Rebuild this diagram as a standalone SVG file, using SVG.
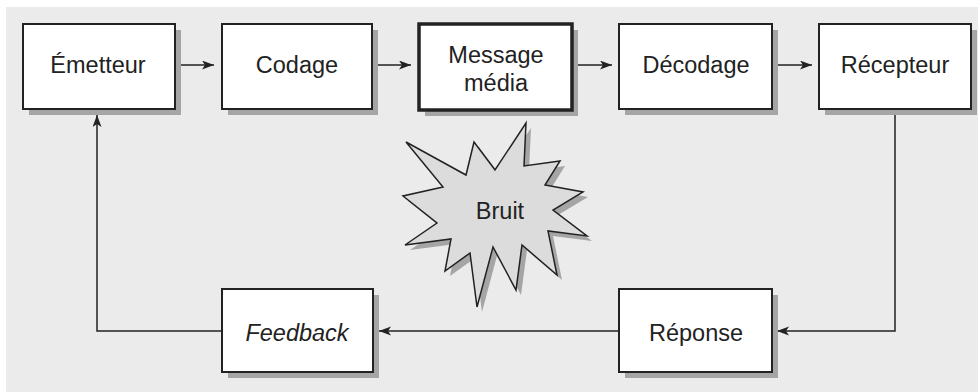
<svg xmlns="http://www.w3.org/2000/svg" width="978" height="392" viewBox="0 0 978 392">
<style>
.shadow{fill:#a5a5a5;stroke:none}
.box{fill:#ffffff;stroke:#222222;stroke-width:2}
.thick{stroke-width:3.5}
.lbl{font-family:"Liberation Sans",Arial,Helvetica,sans-serif;font-size:23.5px;fill:#222222;text-anchor:middle}
.it{font-style:italic}
.conn{fill:none;stroke:#222222;stroke-width:1.5}
</style>
<defs>
<marker id="ah" markerUnits="userSpaceOnUse" markerWidth="14" markerHeight="10" refX="12" refY="4.5" orient="auto">
<path d="M0,0 L12,4.5 L0,9 L3,4.5 Z" fill="#222222"/>
</marker>
</defs>
<rect x="0" y="0" width="978" height="392" fill="#ffffff"/>
<rect x="6" y="7" width="972" height="385" fill="#ebebeb"/>
<g id="connectors">
<path class="conn" d="M175,65 H214" marker-end="url(#ah)"/>
<path class="conn" d="M372,65 H411" marker-end="url(#ah)"/>
<path class="conn" d="M573,65 H612" marker-end="url(#ah)"/>
<path class="conn" d="M772,65 H812" marker-end="url(#ah)"/>
<path class="conn" d="M895,109 V331 H777" marker-end="url(#ah)"/>
<path class="conn" d="M619,331 H379" marker-end="url(#ah)"/>
<path class="conn" d="M222,331 H97 V115" marker-end="url(#ah)"/>
</g>
<g id="emetteur">
<rect class="shadow" x="29" y="30" width="152" height="85"/>
<rect class="box" x="23" y="24" width="152" height="85"/>
<text class="lbl" x="98" y="73">Émetteur</text>
</g>
<g id="codage">
<rect class="shadow" x="228" y="30" width="150" height="85"/>
<rect class="box" x="222" y="24" width="150" height="85"/>
<text class="lbl" x="297" y="73">Codage</text>
</g>
<g id="message">
<rect class="shadow" x="425" y="30" width="153" height="86"/>
<rect class="box thick" x="419" y="24" width="153" height="86"/>
<text class="lbl" x="496" y="63">Message</text>
<text class="lbl" x="496" y="91">média</text>
</g>
<g id="decodage">
<rect class="shadow" x="625" y="30" width="153" height="85"/>
<rect class="box" x="619" y="24" width="153" height="85"/>
<text class="lbl" x="696" y="73">Décodage</text>
</g>
<g id="recepteur">
<rect class="shadow" x="825" y="30" width="152" height="85"/>
<rect class="box" x="819" y="24" width="152" height="85"/>
<text class="lbl" x="895" y="73">Récepteur</text>
</g>
<g id="reponse">
<rect class="shadow" x="625" y="295" width="153" height="83"/>
<rect class="box" x="619" y="289" width="153" height="83"/>
<text class="lbl" x="696" y="341">Réponse</text>
</g>
<g id="feedback">
<rect class="shadow" x="228" y="295" width="151" height="83"/>
<rect class="box" x="222" y="289" width="151" height="83"/>
<text class="lbl it" x="297" y="341">Feedback</text>
</g>
<g id="bruit">
<polygon transform="translate(5,5)" fill="#a5a5a5" points="526,123 524,166 560,161 545,185 583,192 553,210 587,236 548,231 557,275 522,245 516,290 493,247 477,307 470,253 445,271 451,239 405,245 437,223 403,196 443,187 406,142 466,175 474,142 495,170"/>
<polygon fill="#dcdcdc" stroke="#222222" stroke-width="1.5" stroke-linejoin="miter" points="526,123 524,166 560,161 545,185 583,192 553,210 587,236 548,231 557,275 522,245 516,290 493,247 477,307 470,253 445,271 451,239 405,245 437,223 403,196 443,187 406,142 466,175 474,142 495,170"/>
<text class="lbl" x="500" y="219">Bruit</text>
</g>
</svg>
